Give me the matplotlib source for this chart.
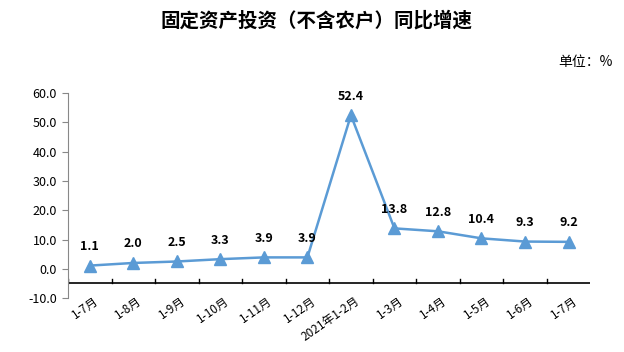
import matplotlib.pyplot as plt

plt.rcParams['font.family'] = ['Noto Sans CJK SC', 'DejaVu Sans']

months = ['1-7月', '1-8月', '1-9月', '1-10月', '1-11月', '1-12月',
          '2021年1-2月', '1-3月', '1-4月', '1-5月', '1-6月', '1-7月']
growth = [1.1, 2.0, 2.5, 3.3, 3.9, 3.9, 52.4, 13.8, 12.8, 10.4, 9.3, 9.2]
yticks = [-10, 0, 10, 20, 30, 40, 50, 60]

fig = plt.figure(figsize=(6.24, 3.52), dpi=100)
ax = fig.add_axes([0.109, 0.153, 0.837, 0.583])

x = list(range(len(growth)))
ax.plot(x, growth, color='#5B9BD5', lw=1.8, marker='^', ms=9, mec='#5B9BD5', mfc='#5B9BD5', zorder=3)
for xi, v in zip(x, growth):
    ax.annotate(f'{v:.1f}', (xi, v), xytext=(0, 9), textcoords='offset points',
                ha='center', va='bottom', fontsize=9, fontweight='bold', color='black')

ax.set_xlim(-0.5, len(growth) - 0.5)
ax.set_ylim(-10, 60)
ax.set_yticks(yticks)
ax.set_yticklabels([f'{t:.1f}' for t in yticks], fontsize=9)

for s in ['top', 'right', 'bottom']:
    ax.spines[s].set_visible(False)
ax.spines['left'].set_color('#888888')
ax.tick_params(axis='y', length=4, color='#888888', pad=4)

# category axis line crossing at -5 with upward ticks between categories
ax.axhline(-5, color='black', lw=1.2, zorder=2)
for b in range(len(growth)):
    ax.plot([b - 0.5, b - 0.5], [-5, -3.6], color='black', lw=1, zorder=2)

ax.set_xticks(x)
ax.set_xticklabels([])
ax.tick_params(axis='x', length=0)
for xi, lab in zip(x, months):
    ax.text(xi + 0.08, -8.8, lab, rotation=35, ha='right', va='top', fontsize=8.5,
            rotation_mode='anchor')

fig.text(0.508, 0.943, '固定资产投资（不含农户）同比增速', ha='center', va='center',
         fontsize=14, fontweight='bold')
fig.text(0.981, 0.823, '单位：%', ha='right', va='center', fontsize=10)

fig.savefig('out.png', dpi=100)
